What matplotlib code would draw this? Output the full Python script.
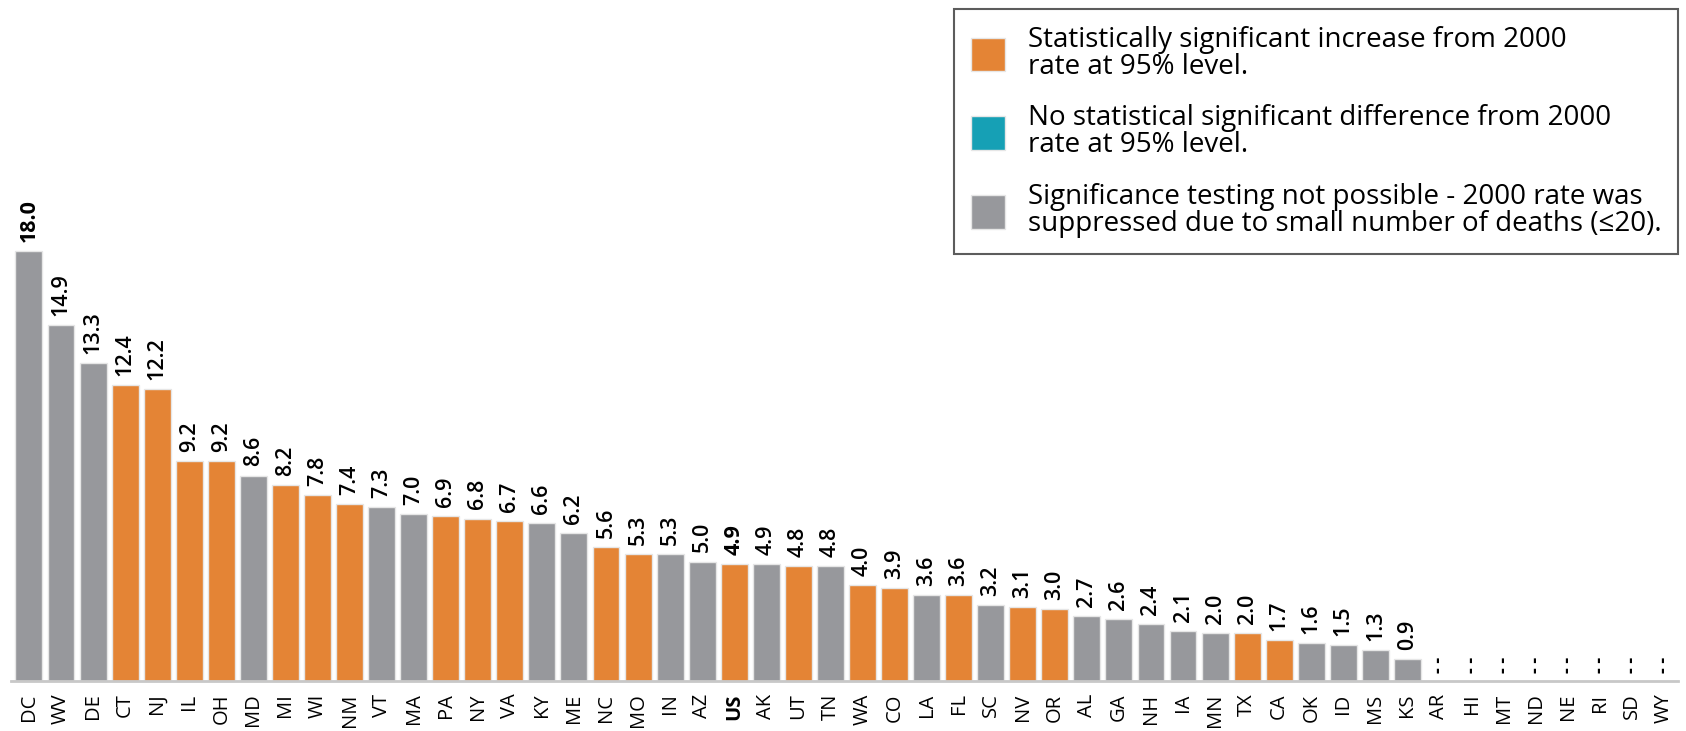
import matplotlib
matplotlib.use("Agg")
import matplotlib.pyplot as plt
from matplotlib.patches import Patch

plt.rcParams["font.family"] = ["Open Sans", "DejaVu Sans"]

# Data
states = ["DC", "WV", "DE", "CT", "NJ", "IL", "OH", "MD", "MI", "WI", "NM", "VT",
          "MA", "PA", "NY", "VA", "KY", "ME", "NC", "MO", "IN", "AZ", "US", "AK",
          "UT", "TN", "WA", "CO", "LA", "FL", "SC", "NV", "OR", "AL", "GA", "NH",
          "IA", "MN", "TX", "CA", "OK", "ID", "MS", "KS", "AR", "HI", "MT", "ND",
          "NE", "RI", "SD", "WY"]
rates = [18.0, 14.9, 13.3, 12.4, 12.2, 9.2, 9.2, 8.6, 8.2, 7.8, 7.4, 7.3,
         7.0, 6.9, 6.8, 6.7, 6.6, 6.2, 5.6, 5.3, 5.3, 5.0, 4.9, 4.9,
         4.8, 4.8, 4.0, 3.9, 3.6, 3.6, 3.2, 3.1, 3.0, 2.7, 2.6, 2.4,
         2.1, 2.0, 2.0, 1.7, 1.6, 1.5, 1.3, 0.9, None, None, None, None,
         None, None, None, None]
# "inc" = significant increase, "na" = testing not possible
status = ["na", "na", "na", "inc", "inc", "inc", "inc", "na", "inc", "inc", "inc", "na",
          "na", "inc", "inc", "inc", "na", "na", "inc", "inc", "na", "na", "inc", "na",
          "inc", "na", "inc", "inc", "na", "inc", "na", "inc", "inc", "na", "na", "na",
          "na", "na", "inc", "inc", "na", "na", "na", "na", "na", "na", "na", "na",
          "na", "na", "na", "na"]

ORANGE = "#E48435"
TEAL = "#16A0B5"
GRAY = "#97989C"
colors = {"inc": ORANGE, "nodiff": TEAL, "na": GRAY}

fig = plt.figure(figsize=(16.86, 7.31), dpi=100)
ax = fig.add_axes([11 / 1686, 1 - 681 / 731, (1678 - 11) / 1686, 681 / 731])

x = list(range(len(states)))
heights = [r if r is not None else 0 for r in rates]
ax.bar(x, heights, width=0.84, color=[colors[s] for s in status],
       edgecolor="#e6e6e6", linewidth=1.0, zorder=2)

for i, r in enumerate(rates):
    is_us = states[i] == "US"
    if r is None:
        ax.annotate("- -", (i, 0), xytext=(0, 5.5), textcoords="offset points",
                    rotation=90, ha="center", va="bottom", fontsize=13,
                    fontweight="bold")
    else:
        ax.annotate(f"{r:.1f}", (i, r), xytext=(0, 6.5), textcoords="offset points",
                    rotation=90, ha="center", va="bottom", fontsize=15.5,
                    fontweight="bold" if is_us or i == 0 else "semibold")

ax.set_xlim(-0.56, 51.44)
ax.set_ylim(0, 28.5)
ax.set_xticks(x)
ax.set_xticklabels(states, rotation=90, fontsize=14.5)
for lbl in ax.get_xticklabels():
    if lbl.get_text() == "US":
        lbl.set_fontweight("bold")
ax.tick_params(axis="x", length=0, pad=9)
ax.set_yticks([])
for side in ["top", "right", "left"]:
    ax.spines[side].set_visible(False)
ax.spines["bottom"].set_color("#c8c8c8")
ax.spines["bottom"].set_linewidth(2)

handles = [Patch(facecolor=ORANGE, edgecolor="#e6e6e6"),
           Patch(facecolor=TEAL, edgecolor="#e6e6e6"),
           Patch(facecolor=GRAY, edgecolor="#e6e6e6")]
labels = ["Statistically significant increase from 2000\nrate at 95% level.",
          "No statistical significant difference from 2000\nrate at 95% level.",
          "Significance testing not possible - 2000 rate was\nsuppressed due to small number of deaths (≤20)."]
leg = fig.legend(handles, labels, loc="upper right",
                 bbox_to_anchor=(1678 / 1686, 1 - 9 / 731),
                 fontsize=20, frameon=True, fancybox=False, edgecolor="#333333",
                 handlelength=1.25, handleheight=1.5, handletextpad=0.8,
                 labelspacing=0.85, borderpad=0.6, borderaxespad=0)
for t in leg.get_texts():
    t.set_linespacing(0.95)
leg.get_frame().set_linewidth(1.5)

plt.savefig("out.png", dpi=100)
